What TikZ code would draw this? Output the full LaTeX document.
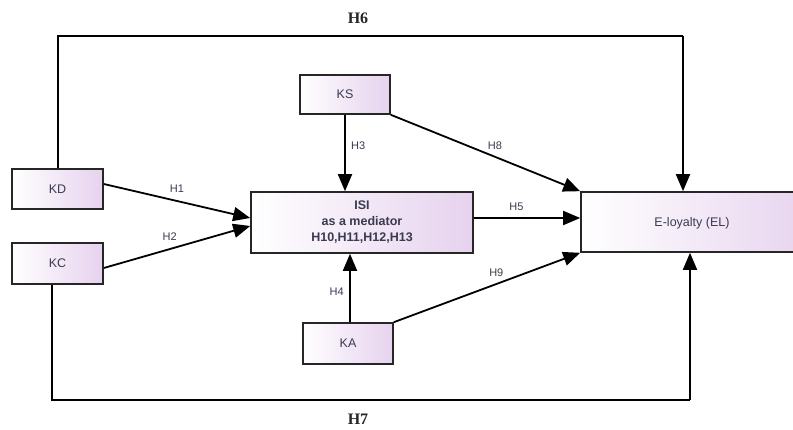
\documentclass[tikz,border=0pt]{standalone}
\usepackage{fontspec}
\setmainfont{Liberation Serif}
\setsansfont{Liberation Sans}
\usetikzlibrary{arrows.meta}
\definecolor{lav}{HTML}{E6D2EE}
\definecolor{txt}{HTML}{3A3A50}
\tikzset{
  box/.style={draw=black!85, line width=1.6pt, left color=white, right color=lav, text=txt,
    font=\sffamily\fontsize{12.5}{14}\selectfont, inner sep=0pt, align=center},
  conn/.style={line width=1.8pt, -{Triangle[length=17pt,width=14pt]}},
  plain/.style={line width=1.8pt},
  lab/.style={font=\sffamily\fontsize{11}{12}\selectfont, text=txt},
  big/.style={font=\fontsize{16}{18}\selectfont\bfseries, text=black!85}
}
\begin{document}
\begin{tikzpicture}[x=1pt,y=-1pt]
\useasboundingbox (0,0) rectangle (793,430);
\clip (0,0) rectangle (793,430);
\node[box, minimum width=91pt, minimum height=40pt] (KD) at (57.5,189) {KD};
\node[box, minimum width=91pt, minimum height=41pt] (KC) at (57.5,263.5) {KC};
\node[box, minimum width=90pt, minimum height=39pt] (KS) at (345,94.5) {KS};
\node[box, minimum width=90pt, minimum height=41pt] (KA) at (348,343.5) {KA};
\node[box, minimum width=222pt, minimum height=61pt, font=\sffamily\fontsize{12.5}{16}\selectfont\bfseries] (ISI) at (362,222.5) {ISI\\as a mediator\\H10,H11,H12,H13};
\node[box, minimum width=240pt, minimum height=60pt] (EL) at (701,222) {};
\node[font=\sffamily\fontsize{12.5}{14}\selectfont, text=txt] (ELt) at (692,223) {E-loyalty (EL)};
% corner coordinates
\coordinate (t1) at (58,36);
\coordinate (t2) at (683,36);
\coordinate (b1) at (52,400);
\coordinate (b2) at (690,400);
% arrows
\draw[conn] (KD.east |- 0,184) -- (ISI.west |- 0,218) node[lab, pos=0.5, above=4pt] {H1};
\draw[conn] (KC.east |- 0,268) -- (ISI.west |- 0,226) node[lab, pos=0.45, above=4pt] {H2};
\draw[conn] (KS.south) -- (ISI.north -| KS.south) node[lab, pos=0.4, right=2pt] {H3};
\draw[conn] (KA.north -| 350,0) -- (ISI.south -| 350,0) node[lab, pos=0.45, left=2pt] {H4};
\draw[conn] (ISI.east |- 0,218) -- (EL.west |- 0,218) node[lab, pos=0.4, above=3pt] {H5};
\draw[conn] (KS.south east) -- (EL.north west) node[lab, pos=0.55, above=3pt] {H8};
\draw[conn] (KA.north east) -- (EL.south west) node[lab, pos=0.55, above=3pt] {H9};
\draw[plain] (KD.north -| t1) -- (t1) -- (t2);
\draw[conn] (t2) -- (EL.north -| t2);
\draw[plain] (KC.south -| b1) -- (b1) -- (b2);
\draw[conn] (b2) -- (EL.south -| b2);
\node[big] (h6) at (358,18) {H6};
\node[big] (h7) at (358,419) {H7};
\end{tikzpicture}
\end{document}
